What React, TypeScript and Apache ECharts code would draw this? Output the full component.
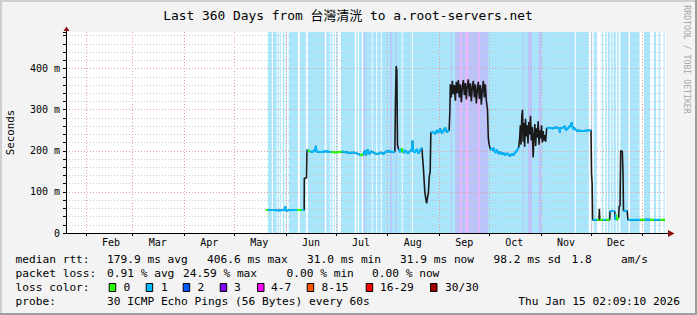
import React, { useEffect, useRef } from 'react';
import * as echarts from 'echarts';

// ---------- data ----------
// x values are days since 2025-01-20 02:09 (start of the 360-day window)
const monthStarts = [12, 40, 71, 101, 132, 162, 193, 224, 254, 285, 315, 346];
const monthNames = ['Feb', 'Mar', 'Apr', 'May', 'Jun', 'Jul', 'Aug', 'Sep', 'Oct', 'Nov', 'Dec'];
const yMaxMs = 489;

// median rtt trace (day, ms)
const rttTrace: [number, number][] = [
  [119.9, 56], [124, 56], [128, 55], [131.2, 56], [131.6, 65], [132.0, 54], [135, 56], [139, 56], [142.9, 56],
  [143.0, 133], [144.3, 134], [144.6, 203],
  [146, 199], [148, 197], [149.6, 204], [149.9, 212], [150.3, 198], [153, 197], [156, 199], [159, 197], [162, 196],
  [166, 198], [170, 195], [173, 196], [176, 191], [178, 189], [179.3, 200], [180, 189], [181, 203], [182, 192],
  [183.3, 199], [185, 194], [187, 192], [189, 196], [190.3, 192], [192, 198], [194, 199], [196, 197], [197.3, 198],
  [197.7, 325], [198.1, 406], [198.5, 395], [198.9, 214],
  [199.5, 204], [200.5, 197], [201.5, 206], [202.5, 195], [203.5, 201], [205, 194], [206.5, 199], [207.6, 204],
  [207.9, 225], [208.3, 199], [209.3, 196], [210.5, 204], [211.5, 194], [212.5, 201], [213.5, 207],
  [214.3, 166], [215.3, 100], [216.0, 80], [216.4, 72], [216.9, 87], [217.4, 96], [218.0, 139], [218.5, 148], [218.9, 244],
  [220, 246], [221.5, 241], [222.5, 250], [223.5, 244], [224.5, 254], [225.5, 243], [226.5, 248], [227.5, 257], [228.5, 245], [229.9, 250],
  [230.3, 295], [230.6, 362], [231.2, 330], [231.8, 370], [232.4, 338], [233, 360], [233.6, 322], [234.2, 368], [234.8, 340],
  [235.4, 372], [236, 330], [236.6, 362], [237.2, 318], [237.8, 356], [238.4, 372], [239, 335], [239.6, 365], [240.2, 325],
  [240.8, 360], [241.4, 374], [242, 332], [242.6, 364], [243.2, 320], [243.8, 356], [244.4, 370], [245, 330], [245.6, 362],
  [246.2, 315], [246.8, 350], [247.4, 368], [248, 326], [248.6, 360], [249.2, 312], [249.8, 348], [250.4, 370], [251, 330],
  [251.6, 362], [252.2, 322], [252.9, 300],
  [253.4, 230], [253.9, 215], [254.5, 205],
  [255.5, 201], [256.5, 207], [257.5, 195], [258.5, 202], [259.5, 193], [260.5, 197], [261.5, 191], [262.5, 195], [263.5, 189],
  [264.5, 194], [265.5, 191], [266.5, 187], [267.5, 193], [268.5, 189], [269.5, 196], [270.3, 199], [271, 204], [271.6, 208],
  [272.2, 230], [272.6, 262], [273.0, 215], [273.5, 285], [273.9, 300], [274.3, 222], [274.8, 268], [275.2, 210], [275.7, 278],
  [276.2, 235], [276.7, 262], [277.2, 218], [277.7, 270], [278.2, 240], [278.7, 285], [279.2, 225], [279.7, 258], [280.3, 184],
  [280.8, 240], [281.3, 265], [281.8, 212], [282.3, 255], [282.8, 232], [283.3, 272], [283.8, 215], [284.3, 250], [284.8, 230],
  [285.3, 262], [285.8, 220], [286.3, 248], [286.8, 225], [287.3, 238], [287.8, 222],
  [288.4, 255], [290, 256], [292, 254], [294, 257], [296, 255], [296.3, 244], [296.6, 255], [298, 256], [299.3, 260], [300, 250],
  [301.5, 256], [303, 263], [303.4, 269], [303.8, 260], [304.3, 252], [305, 256], [306.4, 249], [308, 249], [310, 248], [312, 249],
  [314.4, 250], [315, 250],
  [315.3, 145], [315.7, 121], [316.0, 32],
  [319.8, 32], [320, 59], [320.3, 32], [326.2, 32], [326.4, 52], [327.5, 54], [329.2, 53], [329.4, 32], [329.8, 46], [330.3, 32],
  [331.6, 37], [331.9, 65], [332.4, 66], [332.8, 200], [333.8, 199], [334.2, 145], [334.5, 54], [336.7, 54], [337.2, 32],
  [341, 32], [345, 32], [349, 33], [353, 32], [359.4, 32],
];

// stretches where the coloured median line is visible on top of the smoke
const medianRanges: [number, number][] = [
  [119.9, 142.95], [144.6, 197.35], [199.5, 213.55], [218.9, 229.95], [254.5, 271.65], [288.4, 315.05],
  [316.0, 319.85], [320.3, 326.25], [326.4, 329.25], [329.4, 331.65], [334.5, 336.75], [337.2, 359.5],
];

// stretches of the median with zero loss (green); the rest is loss 1 (light blue)
const medianLoss0: [number, number][] = [
  [119.5, 121.2], [138.5, 141.5], [145, 146.5], [159.3, 165.3], [176.3, 178.5], [201, 202],
  [318.5, 322], [324, 326.3], [330, 332.3], [344.4, 347.4], [350.4, 353], [356.4, 359.5],
];

// loss background: light blue from start to end, minus clear gaps, plus tinted bands
const lossBgStart = 121.1;
const lossBgEnd = 359.2;
const clearGaps: [number, number][] = [
  [123.5, 124.1], [126.3, 126.9], [127.7, 128.3], [128.9, 130.1], [131.0, 131.9], [132.5, 133.7], [139.1, 140.3],
  [143.9, 145.1], [155.3, 156.2], [158.3, 158.9], [159.8, 160.7], [161.3, 162.2], [163.1, 164.9], [173.3, 174.2],
  [175.1, 175.7], [177.5, 178.4], [183.5, 184.1], [186.2, 186.8], [188.9, 189.5], [201.5, 202.1], [207.5, 208.1],
  [305.3, 305.9], [313.7, 314.9], [315.8, 316.7], [318.5, 321.5], [322.4, 323.6], [324.5, 325.1], [326.3, 326.9],
  [327.9, 328.5], [329.9, 330.5], [331.5, 332.6], [337.5, 338.4], [344.1, 346.8], [350.5, 352.6], [354.1, 355.6],
  [356.5, 358.6],
];
const tintBands: [number, number, number][] = [
  [178.5, 179.5, 3], [194.5, 195.5, 3], [197.9, 198.5, 3], [231.0, 231.6, 3], [233.5, 253.2, 3],
  [236.5, 237.5, 4], [239.8, 241.6, 4], [247.1, 248.3, 4], [274.1, 274.7, 3], [277.1, 279.6, 3], [283.6, 285.1, 3],
];

// legend
const lossLabels = ['0', '1', '2', '3', '4-7', '8-15', '16-29', '30/30'];
const lossColors = ['#26ff00', '#00b8ff', '#0059ff', '#7e00ff', '#ff00ff', '#ff5500', '#ff0000', '#a10000'];
const rowLabels = ['median rtt:', 'packet loss:', 'loss color:', 'probe:'];
const rttStats = ['179.9 ms avg', '406.6 ms max', '31.0 ms min', '31.9 ms now', '98.2 ms sd', '1.8', 'am/s'];
const lossStats = ['0.91 % avg', '24.59 % max', '0.00 % min', '0.00 % now'];
const probeText = '30 ICMP Echo Pings (56 Bytes) every 60s';
const stampText = 'Thu Jan 15 02:09:10 2026';
const titleText = 'Last 360 Days from 台灣清洸 to a.root-servers.net';
const unitText = 'Seconds';
const watermarkText = 'RRDTOOL / TOBI OETIKER';

// ---------- styling ----------
const MONO = '"DejaVu Sans Mono", "Noto Sans CJK TC", monospace';
const bgBlue = '#a9e6fc';
const bgTint: Record<number, string> = { 3: '#bac4fb', 4: '#e9b8fb' };
const majorGrid = '#e4a0a0';
const minorGrid = '#c9c9c9';

function txt(text: string, x: number, y: number, size: number, extra: any = {}, elExtra: any = {}) {
  return {
    type: 'text',
    x,
    y,
    silent: true,
    ...elExtra,
    style: {
      text,
      font: `${size}px ${MONO}`,
      fill: '#000',
      align: 'left',
      verticalAlign: 'middle',
      textAlign: 'left',
      textVerticalAlign: 'middle',
      ...extra,
    },
  };
}

function buildOption() {
  const labelDays = monthStarts.slice(0, monthNames.length).map((d) => d + 15);

  // median data: segments of the trace separated by breaks
  const medianData: any[] = [];
  medianRanges.forEach(([a, b], i) => {
    if (i > 0) medianData.push([a, null]);
    rttTrace.forEach((p) => {
      if (p[0] >= a && p[0] <= b) medianData.push(p);
    });
  });

  // background areas
  const areas: any[] = [[{ xAxis: 0, itemStyle: { color: '#ffffff' } }, { xAxis: 360 }]];
  let cur = lossBgStart;
  clearGaps.forEach(([a, b]) => {
    if (a > cur) areas.push([{ xAxis: cur, itemStyle: { color: bgBlue } }, { xAxis: a }]);
    cur = Math.max(cur, b);
  });
  if (cur < lossBgEnd) areas.push([{ xAxis: cur, itemStyle: { color: bgBlue } }, { xAxis: lossBgEnd }]);
  tintBands.forEach(([a, b, lvl]) => {
    areas.push([{ xAxis: a, itemStyle: { color: bgTint[lvl] } }, { xAxis: b }]);
  });

  // y split line colours: red on 100s, grey on 20s, none on the top edge
  const yLineColors: string[] = [];
  for (let v = 0; v <= yMaxMs; v += 20) yLineColors.push(v % 100 === 0 ? majorGrid : minorGrid);
  yLineColors.push('rgba(0,0,0,0)');

  // legend graphics
  const rowY = [259.5, 273.5, 287.5, 301.5];
  const rttX = [107, 207, 307, 400, 493.5, 571.5, 621];
  const lossX = [107, 183, 286.5, 372];
  const boxX = [108.7, 145.7, 182.7, 219.7, 257, 306.7, 365.7, 430];
  const boxLabelX = [123.5, 161, 197.5, 234, 271, 321.5, 380, 445];
  const LS = 11.2;

  const graphics: any[] = [
    // frame
    { type: 'rect', silent: true, shape: { x: 0, y: 0, width: 697, height: 2 }, style: { fill: '#cfcfcf' } },
    { type: 'rect', silent: true, shape: { x: 0, y: 0, width: 2, height: 315 }, style: { fill: '#cfcfcf' } },
    { type: 'rect', silent: true, shape: { x: 0, y: 313, width: 697, height: 2 }, style: { fill: '#9e9e9e' } },
    { type: 'rect', silent: true, shape: { x: 695, y: 0, width: 2, height: 315 }, style: { fill: '#9e9e9e' } },
    // title
    txt(titleText, 348, 15, 12.9, { align: 'center', textAlign: 'center' }),
    // unit
    txt(unitText, 10.7, 132.5, 10.8, { align: 'center', textAlign: 'center' }, { rotation: Math.PI / 2 }),
    // watermark
    txt(watermarkText, 686.7, 59.5, 8.2, { align: 'center', textAlign: 'center', fill: '#a8a8a8' }, { rotation: -Math.PI / 2 }),
    // axis extensions and arrows
    { type: 'line', silent: true, shape: { x1: 63, y1: 233.5, x2: 668, y2: 233.5 }, style: { stroke: '#000', lineWidth: 1 } },
    { type: 'line', silent: true, shape: { x1: 66.5, y1: 30, x2: 66.5, y2: 33 }, style: { stroke: '#000', lineWidth: 1 } },
    { type: 'polygon', silent: true, shape: { points: [[668, 230], [674.5, 233.5], [668, 237]] }, style: { fill: '#8e0f0f' } },
    { type: 'polygon', silent: true, shape: { points: [[63.5, 31], [66.5, 26.5], [69.5, 31]] }, style: { fill: '#8e0f0f' } },
  ];

  rowLabels.forEach((t, i) => graphics.push(txt(t, 15.5, rowY[i], LS)));
  rttStats.forEach((t, i) => graphics.push(txt(t, rttX[i], rowY[0], LS)));
  lossStats.forEach((t, i) => graphics.push(txt(t, lossX[i], rowY[1], LS)));
  lossLabels.forEach((t, i) => {
    graphics.push({
      type: 'rect',
      silent: true,
      shape: { x: boxX[i] + 0.5, y: 283.5, width: 6.5, height: 8 },
      style: { fill: lossColors[i], stroke: '#000', lineWidth: 1 },
    });
    graphics.push(txt(t, boxLabelX[i], rowY[2], LS));
  });
  graphics.push(txt(probeText, 107, rowY[3], LS));
  graphics.push(txt(stampText, 680, rowY[3], LS, { align: 'right', textAlign: 'right' }));

  const pieces = medianLoss0.map(([a, b]) => ({ gte: a, lt: b, color: lossColors[0] }));

  return {
    animation: false,
    backgroundColor: '#f3f3f3',
    textStyle: { fontFamily: MONO },
    grid: { left: 66, top: 32, width: 600, height: 201, show: false, containLabel: false },
    xAxis: {
      type: 'value',
      min: 0,
      max: 360,
      z: 1,
      axisLine: { show: true, lineStyle: { color: '#000', width: 1 } },
      axisTick: { show: true, customValues: monthStarts, length: 3, lineStyle: { color: '#000' } },
      axisLabel: {
        show: true,
        customValues: labelDays,
        formatter: (v: number) => {
          const i = labelDays.indexOf(v);
          return i >= 0 ? monthNames[i] : '';
        },
        fontFamily: MONO,
        fontSize: 10,
        color: '#000',
        margin: 4,
      },
      splitLine: { show: true, lineStyle: { color: majorGrid, type: [1, 2], width: 1 } },
    },
    yAxis: {
      type: 'value',
      min: 0,
      max: yMaxMs,
      interval: 20,
      z: 1,
      axisLine: { show: true, lineStyle: { color: '#000', width: 1 } },
      axisTick: { show: true, length: 3, lineStyle: { color: '#000' } },
      axisLabel: {
        formatter: (v: number) => (v % 100 === 0 ? (v === 0 ? '0' : `${v} m`) : ''),
        fontFamily: MONO,
        fontSize: 10,
        color: '#000',
        margin: 6,
      },
      splitLine: { show: true, lineStyle: { color: yLineColors, type: [1, 2], width: 1 } },
    },
    visualMap: {
      type: 'piecewise',
      show: false,
      seriesIndex: 2,
      dimension: 0,
      pieces,
      outOfRange: { color: lossColors[1] },
    },
    series: [
      {
        type: 'line',
        name: 'loss background',
        data: [],
        z: -2,
        silent: true,
        markArea: { z: -2, silent: true, label: { show: false }, data: areas },
      },
      {
        type: 'line',
        name: 'smoke',
        data: rttTrace,
        z: 3,
        silent: true,
        symbol: 'none',
        lineStyle: { color: '#1a1a1a', width: 1.6 },
      },
      {
        type: 'line',
        name: 'median',
        data: medianData,
        z: 4,
        silent: true,
        symbol: 'none',
        connectNulls: false,
        lineStyle: { width: 2 },
      },
    ],
    graphic: graphics,
  };
}

export default function App() {
  const ref = useRef<HTMLDivElement>(null);
  useEffect(() => {
    if (!ref.current) return;
    const chart = echarts.init(ref.current, null, { renderer: 'svg', width: 697, height: 315 });
    chart.setOption(buildOption() as any);
    return () => chart.dispose();
  }, []);
  return <div ref={ref} style={{ position: 'absolute', left: 0, top: 0, width: 697, height: 315 }} />;
}
